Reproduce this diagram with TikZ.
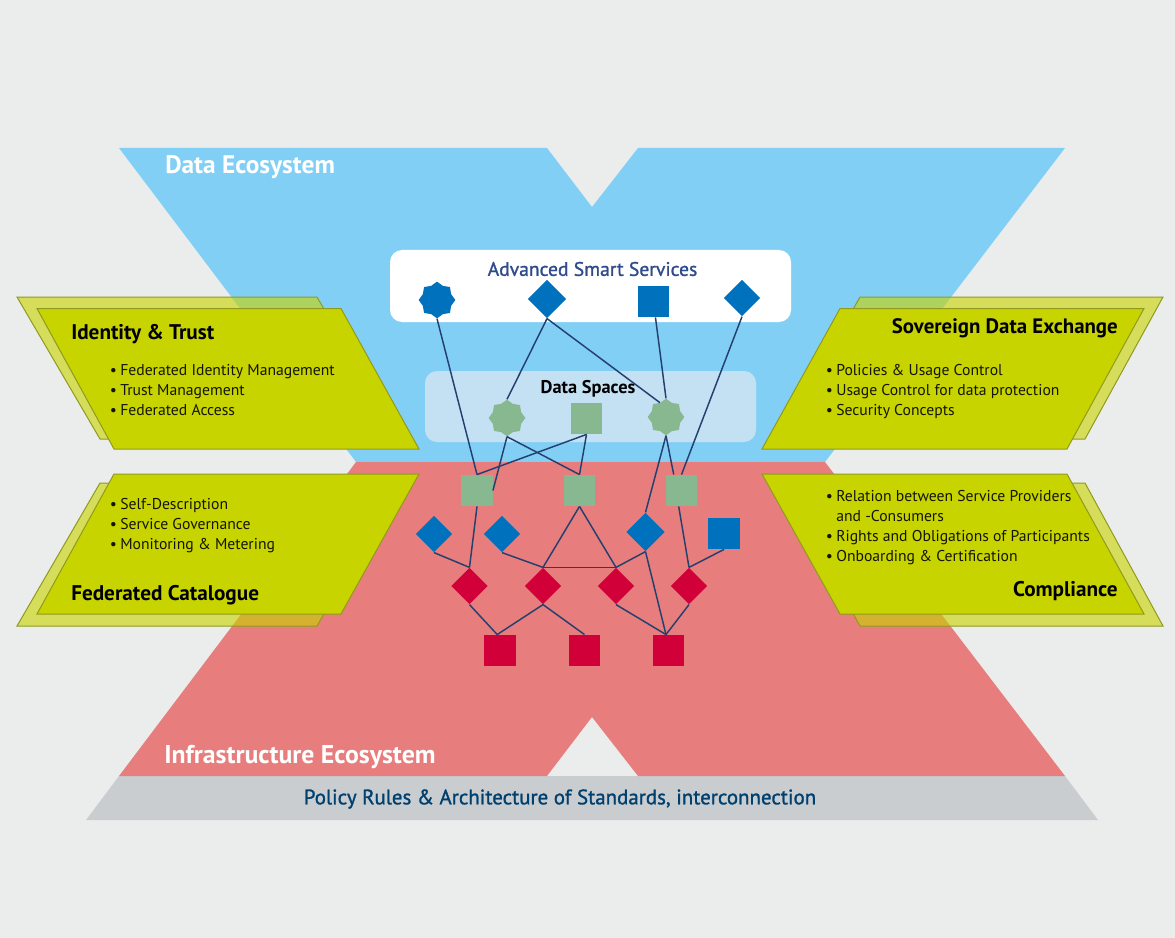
\documentclass[tikz,border=0pt]{standalone}
\usepackage{fontspec}
\setmainfont{PT Sans}
\newfontfamily\medfont[FakeBold=1.2]{PT Sans}
\usetikzlibrary{shapes.geometric}
\definecolor{bgc}{HTML}{EBEDED}
\definecolor{skyc}{HTML}{82CFF6}
\definecolor{redc}{HTML}{E87D7D}
\definecolor{basec}{HTML}{C9CDD0}
\definecolor{limec}{HTML}{C8D400}
\definecolor{edgec}{HTML}{8F9A1E}
\definecolor{bluec}{HTML}{0071BC}
\definecolor{greenc}{HTML}{87B88F}
\definecolor{crimc}{HTML}{D20039}
\definecolor{linec}{HTML}{24406F}
\definecolor{titlec}{HTML}{2F4B8C}
\definecolor{polc}{HTML}{00406F}
\definecolor{dspc}{HTML}{C3E1F3}
\newcommand{\bitem}[1]{\makebox[7.9pt][l]{•}#1}
\tikzset{
  x=0.75pt,y=-0.75pt,
  sq/.style={rectangle,draw=none,inner sep=0pt,minimum size=23.5pt},
  dia/.style={diamond,draw=none,inner sep=0pt,minimum size=27.5pt},
  stary/.style={star,star points=8,star point ratio=1.2,draw=none,inner sep=0pt,minimum size=27.5pt},
  conn/.style={draw=linec,line width=1.1pt},
  front/.style={fill=limec,draw=edgec,line width=0.75pt},
  back/.style={fill=limec,fill opacity=0.62,draw=edgec,line width=0.75pt},
  head/.style={inner sep=0pt,font=\fontsize{15.9}{18}\selectfont\bfseries,text=black},
  blist/.style={inner sep=0pt,align=left,text=black!90!limec,font=\fontsize{11.75}{15}\selectfont},
  eco/.style={inner sep=0pt,anchor=west,text=white,font=\fontsize{19}{20}\selectfont\bfseries},
}
\begin{document}
\begin{tikzpicture}
\useasboundingbox (0,0) rectangle (1175,938);
\fill[bgc] (0,0) rectangle (1175,938);
% ecosystems
\fill[basec] (119,776) -- (86,820) -- (1098,820) -- (1065,776) -- cycle;
\fill[skyc] (119,148) -- (547,148) -- (592,207) -- (638,148) -- (1065,148) -- (825,462) -- (356,462) -- cycle;
\fill[redc] (356,462) -- (825,462) -- (1065,776) -- (638,776) -- (592,717) -- (547,776) -- (119,776) -- cycle;
% central boxes
\fill[white,rounded corners=9pt] (390,250) rectangle (791,322);
\fill[dspc,rounded corners=9pt] (425,371) rectangle (756,442);
% side panels
\draw[back] (17,297) -- (317,297) -- (399,439) -- (100,439) -- cycle;
\draw[front] (37,308.5) -- (341,308.5) -- (419,449) -- (114,449) -- cycle;
\draw[back] (100,483) -- (399,483) -- (317,626) -- (17,626) -- cycle;
\draw[front] (114,474) -- (419,474) -- (341,614) -- (37,614) -- cycle;
\draw[back] (860,297) -- (1163,297) -- (1085,439) -- (780,439) -- cycle;
\draw[front] (840,308.5) -- (1144,308.5) -- (1067,449) -- (762,449) -- cycle;
\draw[back] (780,483) -- (1085,483) -- (1163,626) -- (860,626) -- cycle;
\draw[front] (762,474) -- (1067,474) -- (1144,614) -- (840,614) -- cycle;
% labels
\node[eco] (ecoA) at (165,167) {Data Ecosystem};
\node[eco,font=\fontsize{19.3}{20}\selectfont\bfseries] (ecoB) at (164,757) {Infrastructure Ecosystem};
\node[inner sep=0pt,text=polc,font=\fontsize{15.7}{18}\selectfont\medfont] (pol) at (560,799) {Policy Rules \& Architecture of Standards, interconnection};
\node[inner sep=0pt,text=titlec,font=\fontsize{14.7}{17}\selectfont\medfont] (ass) at (592.5,269) {Advanced Smart Services};
\node[inner sep=0pt,text=black,font=\fontsize{13.8}{15}\selectfont\bfseries] (dsp) at (588,389) {Data Spaces};
\node[head,anchor=west] (h1) at (71,334) {Identity \& Trust};
\node[head,anchor=west] (h2) at (71,595) {Federated Catalogue};
\node[head,anchor=east,font=\fontsize{15.65}{18}\selectfont\bfseries] (h3) at (1118,328) {Sovereign Data Exchange};
\node[head,anchor=east] (h4) at (1118,591) {Compliance};
\node[blist,anchor=north west] (l1) at (109.5,364) {\bitem{Federated Identity Management}\\\bitem{Trust Management}\\\bitem{Federated Access}};
\node[blist,anchor=north west] (l2) at (109.5,498) {\bitem{Self-Description}\\\bitem{Service Governance}\\\bitem{Monitoring \& Metering}};
\node[blist,anchor=north west] (l3) at (825.5,364) {\bitem{Policies \& Usage Control}\\\bitem{Usage Control for data protection}\\\bitem{Security Concepts}};
\node[blist,anchor=north west] (l4) at (825.5,490) {\bitem{Relation between Service Providers}\\\hspace*{7.9pt}and -Consumers\\\bitem{Rights and Obligations of Participants}\\\bitem{Onboarding \& Certification}};
% nodes
\node[stary,fill=bluec] (a1) at (437,300) {};
\node[dia,fill=bluec,minimum size=29pt] (a2) at (547,299) {};
\node[sq,fill=bluec] (a3) at (653.5,301.5) {};
\node[dia,fill=bluec] (a4) at (742,298) {};
\node[stary,fill=greenc] (d1) at (507,418) {};
\node[sq,fill=greenc] (d2) at (586.5,418.5) {};
\node[stary,fill=greenc] (d3) at (666,417) {};
\node[sq,fill=greenc] (g1) at (477,490.5) {};
\node[sq,fill=greenc] (g2) at (579.5,490.5) {};
\node[sq,fill=greenc] (g3) at (681.5,490.5) {};
\node[dia,fill=bluec] (b1) at (434,534) {};
\node[dia,fill=bluec] (b2) at (502,534) {};
\node[dia,fill=bluec,minimum size=29pt] (b3) at (645.5,532) {};
\node[sq,fill=bluec] (b4) at (724,533.5) {};
\node[dia,fill=crimc] (r1) at (469.5,586) {};
\node[dia,fill=crimc] (r2) at (543,586) {};
\node[dia,fill=crimc] (r3) at (616,586) {};
\node[dia,fill=crimc] (r4) at (689,586) {};
\node[sq,fill=crimc] (c1) at (500,650.5) {};
\node[sq,fill=crimc] (c2) at (584.5,650.5) {};
\node[sq,fill=crimc] (c3) at (668.5,650.5) {};
% connectors
\draw[conn] (a1.south) -- (g1.north);
\draw[conn] (a2.south) -- (d1.north);
\draw[conn] (a2.south) -- (d3.113);
\draw[conn] (a3.277) -- (d3.north);
\draw[conn] (a4.south) -- (g3.north);
\draw[conn] (d1.south) -- (g1.east);
\draw[conn] (d1.south) -- (g2.north);
\draw[conn] (d2.south) -- (g1.north);
\draw[conn] (d2.south) -- (g2.north);
\draw[conn] (d3.south) -- (b3.north);
\draw[conn] (d3.south) -- (g3.116);
\draw[conn] (g1.south) -- (r1.north);
\draw[conn] (g2.south) -- (r2.north);
\draw[conn] (g2.south) -- (r3.north);
\draw[conn] (g3.260) -- (r4.north);
\draw[conn] (r2.north) -- (r3.north);
\draw[conn] (b1.south) -- (r1.north);
\draw[conn] (b2.south) -- (r2.north);
\draw[conn] (b3.south) -- (r3.north);
\draw[conn] (b3.south) -- (c3.99);
\draw[conn] (b4.south) -- (r4.north);
\draw[conn] (r1.south) -- (c1.100);
\draw[conn] (r2.south) -- (c1.100);
\draw[conn] (r2.south) -- (c2.north);
\draw[conn] (r3.south) -- (c3.99);
\draw[conn] (r4.south) -- (c3.99);
\end{tikzpicture}
\end{document}
